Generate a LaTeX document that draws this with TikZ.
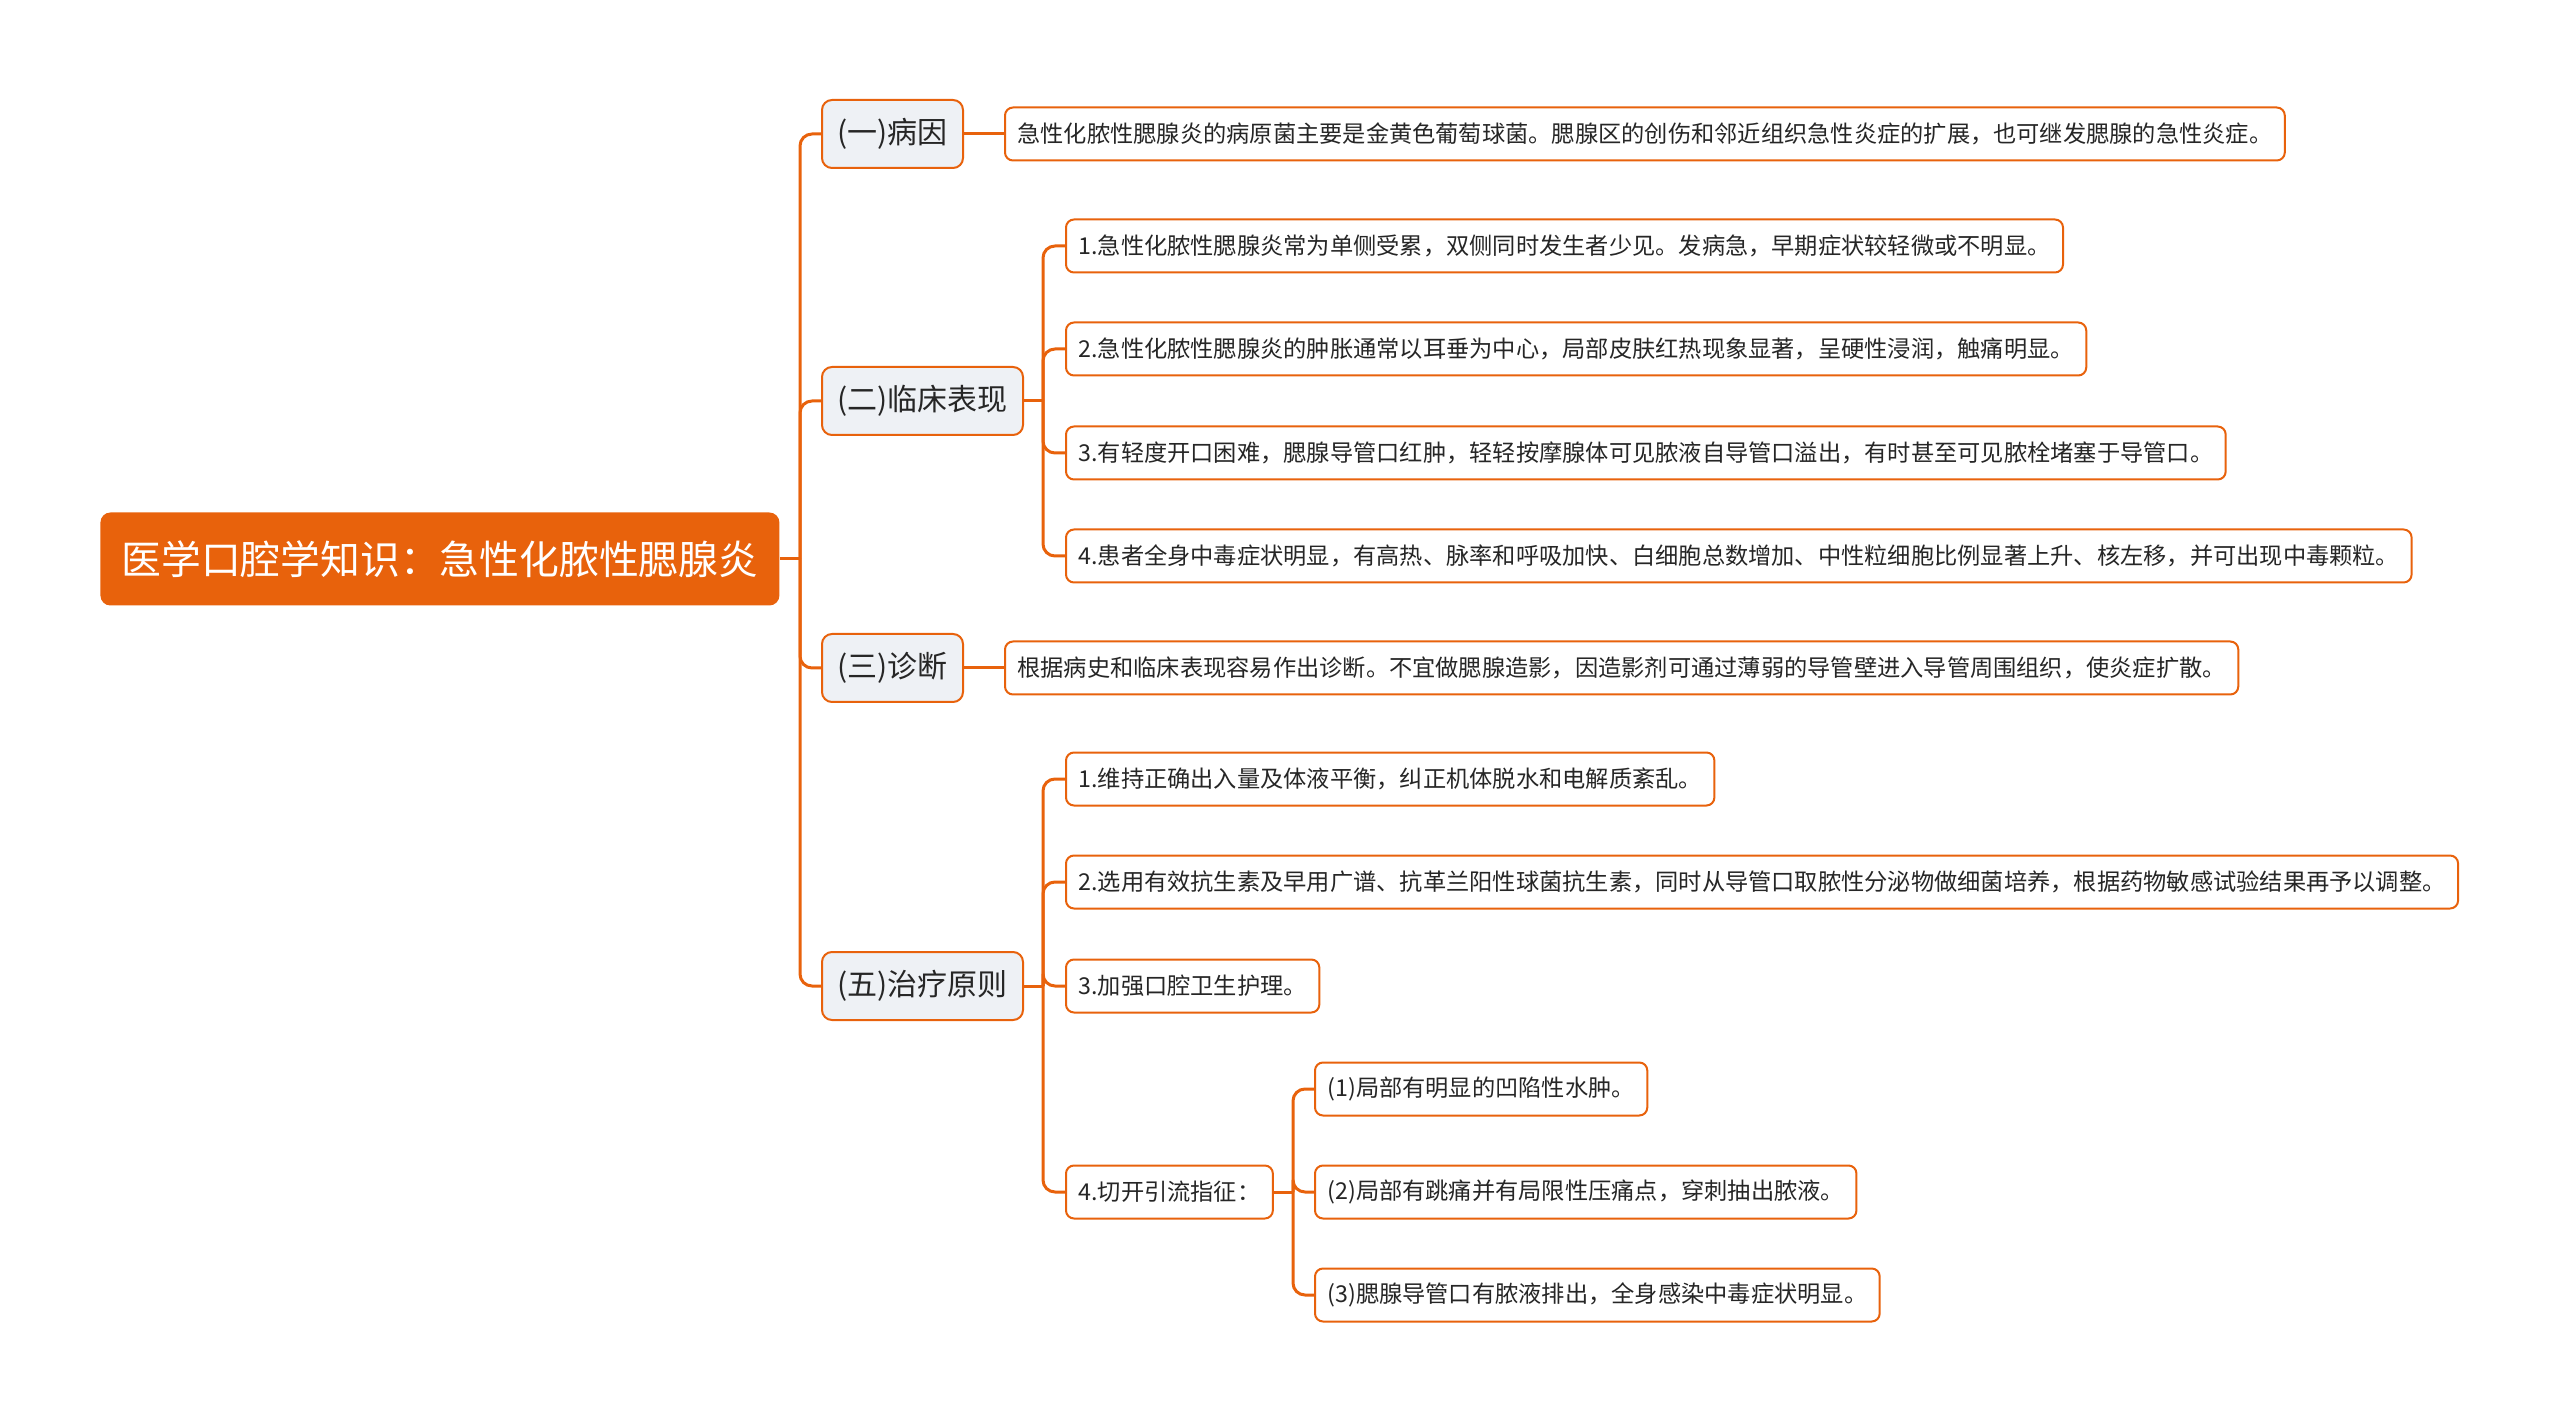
\documentclass[tikz,border=0pt]{standalone}
\usepackage{fontspec}
\setmainfont{Noto Sans CJK SC}
\definecolor{brand}{HTML}{E8620C}
\definecolor{lonefill}{HTML}{EEF1F5}
\definecolor{textc}{HTML}{262626}
\begin{document}
\begin{tikzpicture}[x=0.5pt,y=-0.5pt,
  conn/.style={draw=brand, line width=1.5pt, rounded corners=6pt},
  rootbox/.style={fill=brand, text=white, rounded corners=5pt, font=\fontsize{19.9}{24}\selectfont,
    minimum width=339.5pt, minimum height=46.5pt, anchor=west, inner sep=0pt},
  lonebox/.style={fill=lonefill, draw=brand, line width=1pt, rounded corners=5pt,
    font=\fontsize{15}{18}\selectfont, minimum height=34pt, anchor=west, inner sep=0pt, text=textc},
  leafbox/.style={fill=white, draw=brand, line width=1pt, rounded corners=4pt,
    font=\fontsize{11.62}{14}\selectfont, minimum height=26.5pt, inner xsep=6.2pt, inner ysep=0pt,
    anchor=west, text=textc}]
\useasboundingbox (0,0) rectangle (2560,1422);

% root and level 1
\node[rootbox] (root) at (100,559) {医学口腔学知识：急性化脓性腮腺炎};
\node[lonebox, minimum width=70.5pt]  (a) at (821,134) {(一)病因};
\node[lonebox, minimum width=100.5pt] (b) at (821,401) {(二)临床表现};
\node[lonebox, minimum width=70.5pt]  (c) at (821,668) {(三)诊断};
\node[lonebox, minimum width=100.5pt] (d) at (821,986) {(五)治疗原则};

% leaves
\node[leafbox] (a1) at (1004,134) {急性化脓性腮腺炎的病原菌主要是金黄色葡萄球菌。腮腺区的创伤和邻近组织急性炎症的扩展，也可继发腮腺的急性炎症。};

\node[leafbox] (b1) at (1065,246) {1.急性化脓性腮腺炎常为单侧受累，双侧同时发生者少见。发病急，早期症状较轻微或不明显。};
\node[leafbox] (b2) at (1065,349) {2.急性化脓性腮腺炎的肿胀通常以耳垂为中心，局部皮肤红热现象显著，呈硬性浸润，触痛明显。};
\node[leafbox] (b3) at (1065,453) {3.有轻度开口困难，腮腺导管口红肿，轻轻按摩腺体可见脓液自导管口溢出，有时甚至可见脓栓堵塞于导管口。};
\node[leafbox] (b4) at (1065,556) {4.患者全身中毒症状明显，有高热、脉率和呼吸加快、白细胞总数增加、中性粒细胞比例显著上升、核左移，并可出现中毒颗粒。};

\node[leafbox] (c1) at (1004,668) {根据病史和临床表现容易作出诊断。不宜做腮腺造影，因造影剂可通过薄弱的导管壁进入导管周围组织，使炎症扩散。};

\node[leafbox] (d1) at (1065,779) {1.维持正确出入量及体液平衡，纠正机体脱水和电解质紊乱。};
\node[leafbox] (d2) at (1065,882) {2.选用有效抗生素及早用广谱、抗革兰阳性球菌抗生素，同时从导管口取脓性分泌物做细菌培养，根据药物敏感试验结果再予以调整。};
\node[leafbox] (d3) at (1065,986) {3.加强口腔卫生护理。};
\node[leafbox] (d4) at (1065,1192) {4.切开引流指征：};

\node[leafbox] (e1) at (1314,1089) {(1)局部有明显的凹陷性水肿。};
\node[leafbox] (e2) at (1314,1192) {(2)局部有跳痛并有局限性压痛点，穿刺抽出脓液。};
\node[leafbox] (e3) at (1314,1295) {(3)腮腺导管口有脓液排出，全身感染中毒症状明显。};

% connectors
\coordinate (t0) at (800,559);
\draw[conn] (root.east) -- (t0);
\foreach \n in {a,b,c,d} \draw[conn] (t0) |- (\n.west);

\draw[conn] (a.east) -- (a1.west);
\draw[conn] (c.east) -- (c1.west);

\coordinate (tb) at (1043,401);
\draw[conn] (b.east) -- (tb);
\foreach \n in {b1,b2,b3,b4} \draw[conn] (tb) |- (\n.west);

\coordinate (td) at (1043,986);
\draw[conn] (d.east) -- (td);
\foreach \n in {d1,d2,d3,d4} \draw[conn] (td) |- (\n.west);

\coordinate (te) at (1293,1192);
\draw[conn] (d4.east) -- (te);
\foreach \n in {e1,e2,e3} \draw[conn] (te) |- (\n.west);
\end{tikzpicture}
\end{document}
